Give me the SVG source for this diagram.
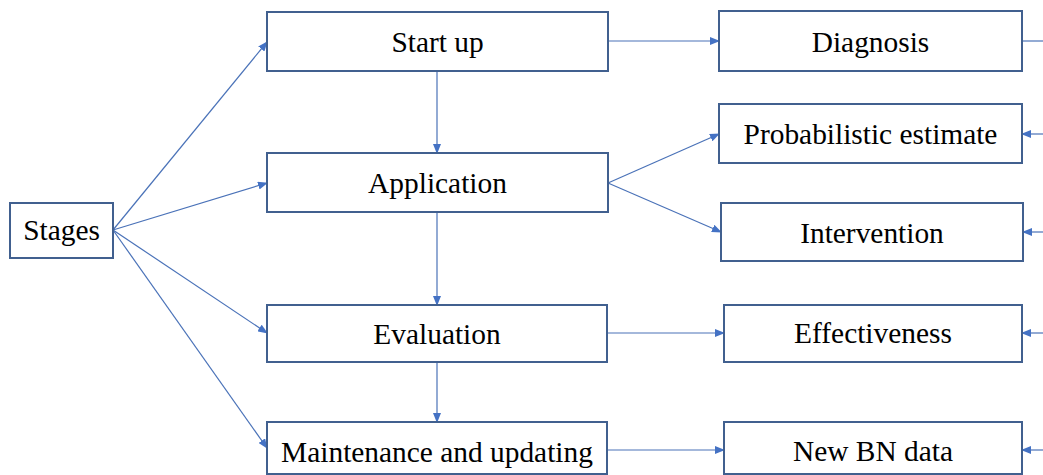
<svg xmlns="http://www.w3.org/2000/svg" width="1043" height="475" viewBox="0 0 1043 475">
<style>
.box{fill:#fff;stroke:#41608f;stroke-width:2}
.lbl{font-family:'Liberation Serif','Times New Roman',serif;font-size:29.4px;fill:#000;text-anchor:middle}
.c{stroke:#4a72b8;stroke-width:1.2;fill:none}
</style>
<defs>
<marker id="ah" markerWidth="10" markerHeight="8" refX="9" refY="4" orient="auto" markerUnits="userSpaceOnUse">
<path d="M0,0 L10,4 L0,8 Z" fill="#4472c4"/>
</marker>
</defs>
<rect width="1043" height="475" fill="#fff"/>
<g id="connectors">
<line class="c" x1="113" y1="230" x2="267" y2="42" marker-end="url(#ah)"/>
<line class="c" x1="113" y1="230" x2="267" y2="183" marker-end="url(#ah)"/>
<line class="c" x1="113" y1="230" x2="267" y2="333" marker-end="url(#ah)"/>
<line class="c" x1="113" y1="230" x2="267" y2="448" marker-end="url(#ah)"/>
<line class="c" x1="437" y1="71" x2="437" y2="153" marker-end="url(#ah)"/>
<line class="c" x1="437" y1="212" x2="437" y2="305" marker-end="url(#ah)"/>
<line class="c" x1="437" y1="362" x2="437" y2="422" marker-end="url(#ah)"/>
<line class="c" x1="608" y1="41" x2="719" y2="41" marker-end="url(#ah)"/>
<line class="c" x1="608" y1="183" x2="719" y2="134" marker-end="url(#ah)"/>
<line class="c" x1="608" y1="183" x2="721" y2="232" marker-end="url(#ah)"/>
<line class="c" x1="607" y1="333" x2="724" y2="333" marker-end="url(#ah)"/>
<line class="c" x1="607" y1="450" x2="724" y2="450" marker-end="url(#ah)"/>
<line class="c" x1="1022" y1="41" x2="1043" y2="41"/>
<line class="c" x1="1043" y1="134" x2="1022" y2="134" marker-end="url(#ah)"/>
<line class="c" x1="1043" y1="232" x2="1023" y2="232" marker-end="url(#ah)"/>
<line class="c" x1="1043" y1="333" x2="1022" y2="333" marker-end="url(#ah)"/>
<line class="c" x1="1043" y1="450" x2="1022" y2="450" marker-end="url(#ah)"/>
</g>
<g id="stages"><rect class="box" x="10" y="203" width="103" height="55"/><text class="lbl" x="61.5" y="240">Stages</text></g>
<g id="startup"><rect class="box" x="267" y="12" width="341" height="59"/><text class="lbl" x="437.5" y="52">Start up</text></g>
<g id="application"><rect class="box" x="267" y="153" width="341" height="59"/><text class="lbl" x="437.5" y="193">Application</text></g>
<g id="evaluation"><rect class="box" x="267" y="305" width="340" height="57"/><text class="lbl" x="437" y="344">Evaluation</text></g>
<g id="maintenance"><rect class="box" x="267" y="422" width="340" height="52"/><text class="lbl" x="437" y="462">Maintenance and updating</text></g>
<g id="diagnosis"><rect class="box" x="719" y="11" width="303" height="60"/><text class="lbl" x="870.5" y="52">Diagnosis</text></g>
<g id="probabilistic"><rect class="box" x="719" y="104" width="303" height="59"/><text class="lbl" x="870.5" y="144">Probabilistic estimate</text></g>
<g id="intervention"><rect class="box" x="721" y="203" width="302" height="58"/><text class="lbl" x="872" y="243">Intervention</text></g>
<g id="effectiveness"><rect class="box" x="724" y="305" width="298" height="57"/><text class="lbl" x="873" y="343">Effectiveness</text></g>
<g id="newbn"><rect class="box" x="724" y="422" width="298" height="52"/><text class="lbl" x="873" y="461">New BN data</text></g>
</svg>
